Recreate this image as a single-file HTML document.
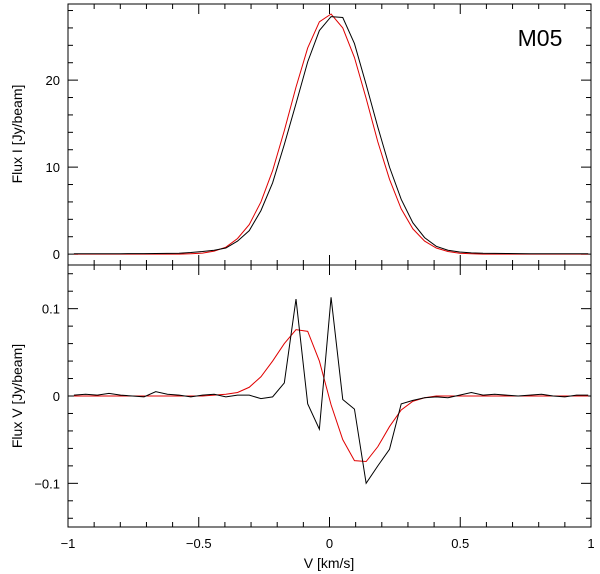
<!DOCTYPE html>
<html><head><meta charset="utf-8"><style>
body{margin:0;background:#fff}
svg{display:block;font-family:"Liberation Sans",sans-serif}
</style></head><body>
<svg id="c" width="600" height="574" xmlns="http://www.w3.org/2000/svg"></svg>
<script>
const kIdx=[-22,-21,-20,-19,-18,-17,-16,-15,-14,-13,-12,-11,-10,-9,-8,-7,-6,-5,-4,-3,-2,-1,0,1,2,3,4,5,6,7,8,9,10,11,12,13,14,15,16,17,18,19,20,21,22];
const velStart=0.006, velStep=0.0447;
const fluxIObs=[0.05,0.05,0.05,0.05,0.05,0.06,0.06,0.07,0.08,0.1,0.18,0.3,0.45,0.7,1.5,2.7,5.0,8.2,12.6,17.3,22.1,25.7,27.3,27.2,24.2,19.5,14.6,10.0,6.3,3.6,1.9,0.9,0.45,0.25,0.15,0.1,0.08,0.07,0.06,0.05,0.05,0.05,0.05,0.05,0.05];
const fluxIModel=[0,0,0,0,0,0,0,0,0,0,0.05,0.12,0.35,0.8,1.8,3.4,6.0,9.6,14.2,19.2,23.7,26.7,27.6,26.0,22.6,17.9,12.9,8.6,5.2,2.9,1.5,0.7,0.3,0.1,0.05,0,0,0,0,0,0,0,0,0,0];
const fluxVObs=[0.001,0.002,0.001,0.003,0.001,0,-0.001,0.005,0.002,0.001,
  -0.001,0.001,0.002,-0.001,0.001,
  0.001,-0.003,-0.001,0.015,
  0.111,-0.009,-0.038,0.113,-0.004,-0.015,-0.1,-0.08,-0.061,-0.009,-0.005,
  -0.002,-0.001,-0.002,0.001,0.004,0.001,0.002,0.001,0,0.001,0.002,0,-0.001,0.001,0.001];
const fluxVModel=[0,0,0,0,0,0,0,0,0,0,0,0,0.001,0.002,0.004,0.01,0.022,0.04,0.06,0.076,0.074,0.04,-0.01,-0.05,-0.074,-0.075,-0.058,-0.035,-0.016,-0.006,-0.002,0,0,0,0,0,0,0,0,0,0,0,0,0,0];
const xTicks=[-1,-0.5,0,0.5,1], xTickLabels=["−1","−0.5","0","0.5","1"];
const topTicks=[0,10,20], topTickLabels=["0","10","20"];
const botTicks=[-0.1,0,0.1], botTickLabels=["−0.1","0","0.1"];

const svg=document.getElementById('c');
const NS="http://www.w3.org/2000/svg";
const L=68,R=591,T1=4,B1=265,T2=265,B2=527;
const xs=v=>L+(v+1)/2*(R-L);
const y1=f=>B1-(f+1.25)/30*(B1-T1);
const y2=f=>B2-(f+0.15)/0.3*(B2-T2);
function el(tag,at,par){const e=document.createElementNS(NS,tag);for(const k in at)e.setAttribute(k,at[k]);(par||svg).appendChild(e);return e;}
const vel=kIdx.map(k=>velStart+velStep*k);

function frame(T,B,ys,lo,hi,minStep,majors,labels,name){
  const g=el('g',{});
  
  
  el('rect',{x:L,y:T,width:R-L,height:B-T,fill:'none',stroke:'#000','stroke-width':1},g);
  for(let i=0;i<=20;i++){const v=-1+i*0.1,x=xs(v),m=(i%5==0)?10:5;
    el('line',{x1:x,x2:x,y1:B,y2:B-m,stroke:'#000'},g);el('line',{x1:x,x2:x,y1:T,y2:T+m,stroke:'#000'},g);}
  const n=Math.round((hi-lo)/minStep);
  for(let i=0;i<=n;i++){const v=lo+i*minStep,y=ys(v);
    const maj=majors.some(m=>Math.abs(m-v)<minStep/10),m=maj?10:5;
    el('line',{x1:L,x2:L+m,y1:y,y2:y,stroke:'#000'},g);el('line',{x1:R,x2:R-m,y1:y,y2:y,stroke:'#000'},g);}
  majors.forEach((m,i)=>{const t=el('text',{x:L-8,y:ys(m)+5,'text-anchor':'end','font-size':13},g);t.textContent=labels[i];});
}
frame(T1,B1,y1,0,28,2,topTicks,topTickLabels,'top-panel-axes');
frame(T2,B2,y2,-0.14,0.14,0.02,botTicks,botTickLabels,'bottom-panel-axes');

xTicks.forEach((v,i)=>{const t=el('text',{x:xs(v),y:548,'text-anchor':'middle','font-size':13});
  t.textContent=xTickLabels[i];});

function line(vals,ys,color,name,clip){
  const p=el('polyline',{points:vals.map((f,i)=>xs(vel[i])+','+ys(f)).join(' '),fill:'none',stroke:color,'stroke-width':1,'clip-path':clip});
  
  
}
const defs=el('defs',{});
const c1=el('clipPath',{id:'cp1'},defs);el('rect',{x:L,y:T1,width:R-L,height:B1-T1},c1);
const c2=el('clipPath',{id:'cp2'},defs);el('rect',{x:L,y:T2,width:R-L,height:B2-T2},c2);
line(fluxIModel,y1,'#e00000','flux-i-model','url(#cp1)');
line(fluxIObs,y1,'#000','flux-i-observed','url(#cp1)');
line(fluxVModel,y2,'#e00000','flux-v-model','url(#cp2)');
line(fluxVObs,y2,'#000','flux-v-observed','url(#cp2)');

let t=el('text',{x:540,y:46,'text-anchor':'middle','font-size':23});
t.textContent='M05';
t=el('text',{x:329,y:568,'text-anchor':'middle','font-size':14});
t.textContent='V [km/s]';
t=el('text',{x:0,y:0,'text-anchor':'middle','font-size':14,transform:'translate(22,134) rotate(-90)'});
t.textContent='Flux I [Jy/beam]';
t=el('text',{x:0,y:0,'text-anchor':'middle','font-size':14,transform:'translate(22,396) rotate(-90)'});
t.textContent='Flux V [Jy/beam]';
</script>
</body></html>
